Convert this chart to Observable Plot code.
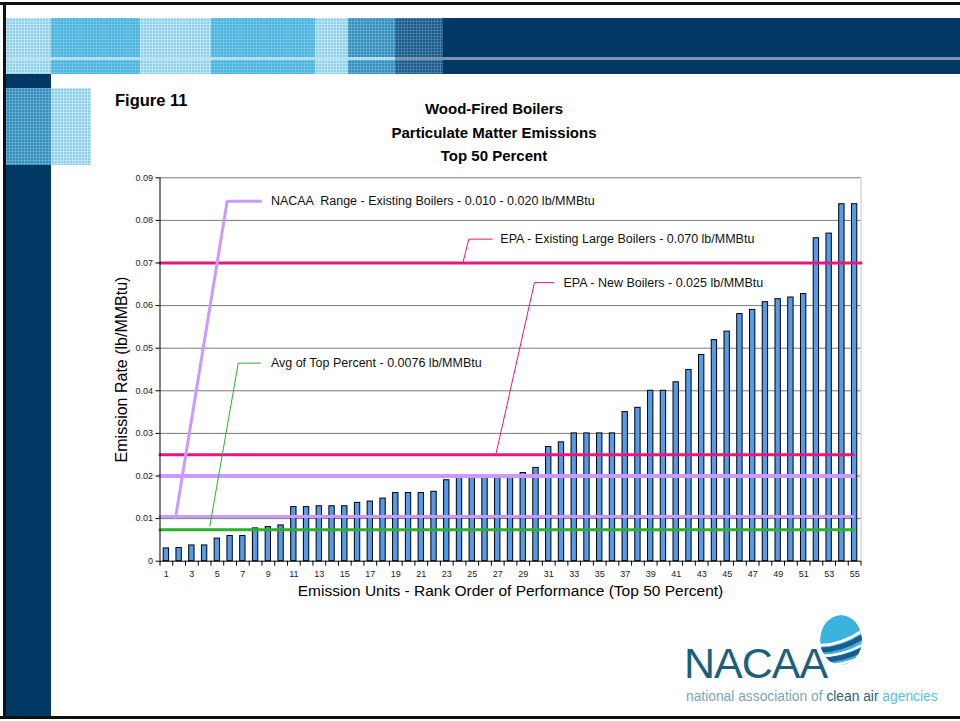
<!DOCTYPE html>
<html><head><meta charset="utf-8">
<script src="https://cdn.jsdelivr.net/npm/d3@7"></script>
<script src="https://cdn.jsdelivr.net/npm/@observablehq/plot@0.6"></script>
<style>
body{margin:0;background:#fff;}
#page{position:relative;width:960px;height:721px;overflow:hidden;font-family:"Liberation Sans",Arial,sans-serif;background:#fff;}
.b{position:absolute;}
.lt{background-color:#8fd1ea;background-image:linear-gradient(90deg,rgba(255,255,255,.35) 1px,transparent 1px),linear-gradient(rgba(255,255,255,.35) 1px,transparent 1px);background-size:3px 3px;}
.md{background-color:#4db5dd;background-image:linear-gradient(90deg,rgba(255,255,255,.15) 1px,transparent 1px),linear-gradient(rgba(255,255,255,.15) 1px,transparent 1px);background-size:3px 3px;}
.tl{background-color:#3590bf;background-image:linear-gradient(90deg,rgba(255,255,255,.18) 1px,transparent 1px),linear-gradient(rgba(255,255,255,.18) 1px,transparent 1px);background-size:3px 3px;}
.dk{background-color:#1d5a88;background-image:linear-gradient(90deg,rgba(120,170,210,.35) 1px,transparent 1px),linear-gradient(rgba(120,170,210,.35) 1px,transparent 1px);background-size:3px 3px;}
.nv{background:#023864;}
#chart text{white-space:pre;}
</style></head><body>
<div id="page">
  <!-- frame -->
  <div class="b" style="left:0;top:2px;width:960px;height:3px;background:#111"></div>
  <div class="b" style="left:3px;top:2px;width:3px;height:717px;background:#111"></div>
  <div class="b" style="left:0;top:716px;width:960px;height:3px;background:#111"></div>
  <!-- header band -->
  <div class="b lt" style="left:6px;top:18px;width:45px;height:56px"></div>
  <div class="b md" style="left:51px;top:18px;width:89px;height:56px"></div>
  <div class="b lt" style="left:140px;top:18px;width:71px;height:56px"></div>
  <div class="b md" style="left:211px;top:18px;width:104px;height:56px"></div>
  <div class="b lt" style="left:315px;top:18px;width:33px;height:56px"></div>
  <div class="b tl" style="left:348px;top:18px;width:47px;height:56px"></div>
  <div class="b dk" style="left:395px;top:18px;width:48px;height:56px"></div>
  <div class="b nv" style="left:443px;top:18px;width:517px;height:56px"></div>
  <div class="b" style="left:6px;top:57px;width:389px;height:3px;background:#b9e3f3;opacity:.9"></div>
  <div class="b" style="left:395px;top:57px;width:565px;height:3px;background:#7a95b2"></div>
  <!-- left column -->
  <div class="b nv" style="left:6px;top:74px;width:45px;height:642px"></div>
  <div class="b tl" style="left:6px;top:88px;width:45px;height:77px"></div>
  <div class="b lt" style="left:51px;top:88px;width:40px;height:77px"></div>
  <!-- texts -->
  <div class="b" id="fig" style="left:115px;top:91px;font-size:16.5px;font-weight:bold;color:#000">Figure 11</div>
  <div class="b" id="title" style="left:294px;top:97px;width:400px;text-align:center;font-size:15px;font-weight:bold;line-height:23.5px;color:#000">Wood-Fired Boilers<br>Particulate Matter Emissions<br>Top 50 Percent</div>
  <div id="chart" class="b" style="left:100px;top:165px;"></div>
  <!-- logo -->
  <div class="b" style="left:684px;top:646px;font-size:43px;color:#1c5f7d;line-height:34px;letter-spacing:-1px">NACAA</div>
  <svg class="b" style="left:816px;top:613px" width="46" height="58" viewBox="0 0 46 58">
    <defs><clipPath id="gc"><ellipse cx="25" cy="27" rx="21" ry="25"/></clipPath></defs>
    <g clip-path="url(#gc)">
      <ellipse cx="25" cy="27" rx="21" ry="25" fill="#3ab3df"/>
      <path d="M0,32 Q22,34 46,18" stroke="#fff" stroke-width="3" fill="none"/>
      <path d="M0,37 Q24,38 46,24" stroke="#1c5b8c" stroke-width="5" fill="none"/>
      <path d="M0,43 Q24,44 46,32" stroke="#fff" stroke-width="2.5" fill="none"/>
      <path d="M0,47 Q24,48 46,37" stroke="#1c5b8c" stroke-width="5" fill="none"/>
      <path d="M0,52 Q24,54 46,44" stroke="#fff" stroke-width="2.5" fill="none"/>
      <path d="M0,57 Q24,58 46,50" stroke="#1c5b8c" stroke-width="5" fill="none"/>
    </g>
  </svg>
  <div class="b" style="left:686px;top:689px;font-size:13.8px;line-height:15px;white-space:nowrap"><span style="color:#7ea5b4">national association of </span><span style="color:#2d5f70">clean air </span><span style="color:#5bbfe0">agencies</span></div>
</div>
<script>
// ---- data ----
const ranks = d3.range(1, 56);
const emissionRates = [
  0.0030, 0.0031, 0.0037, 0.0037, 0.0053, 0.0059, 0.0059, 0.0077, 0.0080, 0.0084,
  0.0127, 0.0127, 0.0129, 0.0129, 0.0129, 0.0137, 0.0140, 0.0147, 0.0160, 0.0160,
  0.0160, 0.0163, 0.0190, 0.0198, 0.0199, 0.0200, 0.0200, 0.0200, 0.0207, 0.0219,
  0.0268, 0.0279, 0.0300, 0.0300, 0.0300, 0.0300, 0.0350, 0.0360, 0.0400, 0.0400,
  0.0420, 0.0449, 0.0484, 0.0519, 0.0539, 0.0580, 0.0590, 0.0608, 0.0615, 0.0619,
  0.0627, 0.0758, 0.0769, 0.0838, 0.0838
];
const yTicks = [0, 0.01, 0.02, 0.03, 0.04, 0.05, 0.06, 0.07, 0.08, 0.09];
const xTickLabels = ranks.filter(r => r % 2 === 1);
const bandEdges = d3.range(0, 56).map(i => i + 0.5);
// reference levels (lb/MMBtu)
const epaExistingLarge = 0.070;
const epaNew = 0.025;
const nacaaHigh = 0.020;
const nacaaLow = 0.0105;
const avgTop = 0.0074;
// callout labels and leader anchors (rank, rate)
const calloutText = [
  "NACAA  Range - Existing Boilers - 0.010 - 0.020 lb/MMBtu",
  "EPA - Existing Large Boilers - 0.070 lb/MMBtu",
  "EPA - New Boilers - 0.025 lb/MMBtu",
  "Avg of Top Percent - 0.0076 lb/MMBtu"
];
const calloutAt = [[9.2, 0.0845], [27.2, 0.0756], [32.15, 0.0654], [9.2, 0.0465]];
const leaderNacaa = [[1.72, 0.0102], [5.77, 0.0845], [8.39, 0.0845]];
const leaderEpaExisting = [[24.26, 0.0700], [24.73, 0.0756], [26.57, 0.0756]];
const leaderEpaNew = [[26.88, 0.0254], [29.88, 0.0654], [31.4, 0.0654]];
const leaderAvg = [[4.41, 0.0082], [6.64, 0.0465], [8.39, 0.0465]];

const bars = ranks.map((r, i) => ({rank: r, rate: emissionRates[i]}));
const callouts = calloutText.map((t, i) => ({text: t, x: calloutAt[i][0], y: calloutAt[i][1]}));

const pink = "#e8177f", lav = "#cc99ff", green = "#2eaf2e";
const lastBand = 54.9;
const hline = (v, x2, stroke, w) => Plot.line([[0.5, v], [x2, v]], {stroke, strokeWidth: w});
const leader = (pts, stroke, w) => Plot.line(pts, {stroke, strokeWidth: w, strokeLinejoin: "miter"});

const chart = Plot.plot({
  width: 780, height: 440,
  marginLeft: 59.5, marginRight: 19.5, marginTop: 12.3, marginBottom: 44.3,
  style: {fontFamily: '"Liberation Sans", Arial, sans-serif', background: "transparent", overflow: "visible"},
  x: {type: "linear", domain: [0.5, 55.5], axis: null},
  y: {domain: [0, 0.09], axis: null},
  marks: [
    Plot.ruleY(yTicks.slice(1), {stroke: "#7a7a7a", strokeWidth: 1}),
    Plot.ruleX([55.5], {stroke: "#c4c4c4"}),
    Plot.rect(bars, {x1: d => d.rank - 0.21, x2: d => d.rank + 0.21, y1: 0, y2: "rate", fill: "#559bea", stroke: "#000", strokeWidth: 1}),
    hline(epaExistingLarge, 55.5, pink, 3),
    hline(epaNew, lastBand, pink, 3),
    hline(nacaaHigh, lastBand, lav, 4),
    hline(nacaaLow, lastBand, lav, 3),
    hline(avgTop, lastBand, green, 3),
    leader(leaderNacaa, lav, 3),
    leader(leaderAvg, green, 1),
    leader(leaderEpaExisting, pink, 1),
    leader(leaderEpaNew, pink, 1),
    Plot.text(callouts, {x: "x", y: "y", text: "text", textAnchor: "start", fontSize: 12.5, fill: "#111"}),
    Plot.ruleX([0.5], {stroke: "#000"}),
    Plot.ruleY([0], {stroke: "#000"}),
    Plot.axisY({ticks: yTicks, tickSize: 4, tickPadding: 3, fontSize: 9, tickFormat: d => d === 0 ? "0" : d.toFixed(2), label: null, stroke: "#000", fill: "#222"}),
    Plot.axisX({ticks: bandEdges, tickSize: 5, fill: "none", label: null, stroke: "#000"}),
    Plot.axisX({ticks: xTickLabels, tickSize: 0, tickPadding: 9, fontSize: 9, label: null, fill: "#222"}),
    Plot.text(["Emission Rate (lb/MMBtu)"], {frameAnchor: "left", dx: -38.5, rotate: -90, textAnchor: "middle", lineAnchor: "middle", fontSize: 16, fill: "#000"}),
    Plot.text(["Emission Units - Rank Order of Performance (Top 50 Percent)"], {frameAnchor: "bottom", dy: 29.5, lineAnchor: "middle", fontSize: 15.5, fill: "#000"})
  ]
});
document.getElementById("chart").appendChild(chart);
</script>
</body></html>
